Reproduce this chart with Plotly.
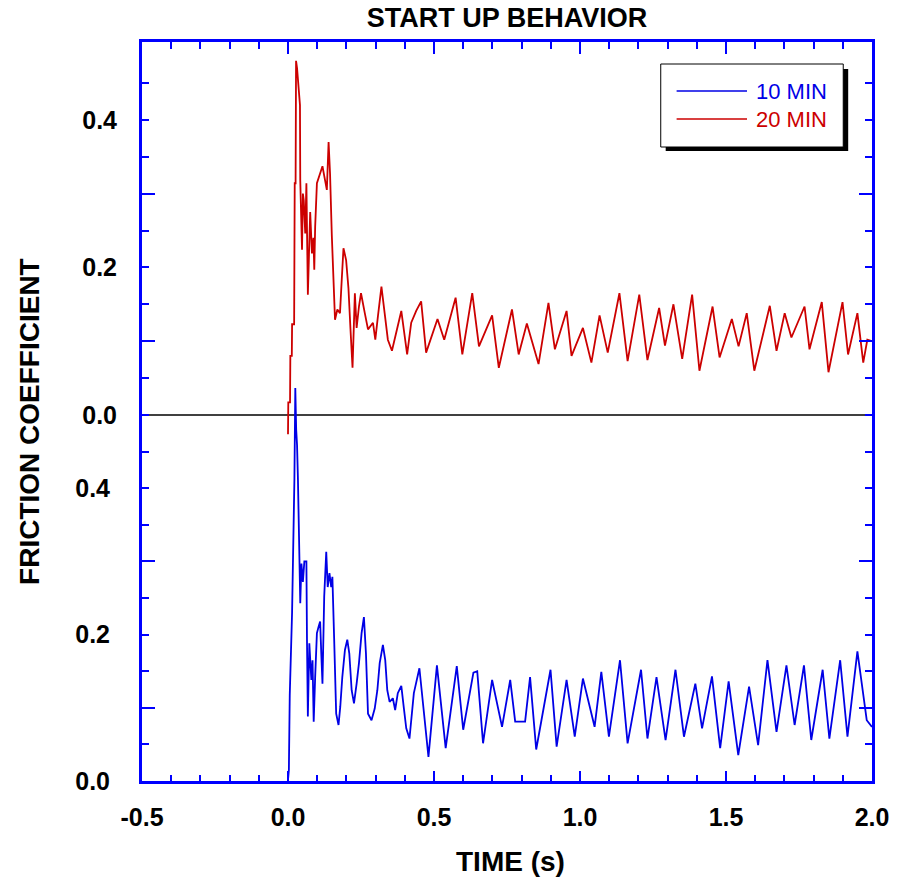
import plotly.graph_objects as go

# ---------------- data ----------------
red_t = [0.000, 0.001, 0.007, 0.008, 0.013, 0.014, 0.021, 0.023, 0.026, 0.0276,
         0.031, 0.034, 0.038, 0.039, 0.041, 0.042, 0.048, 0.051, 0.054, 0.059,
         0.063, 0.068, 0.072, 0.076, 0.082, 0.087, 0.090, 0.093, 0.099, 0.110,
         0.118, 0.127, 0.133, 0.139, 0.144, 0.150, 0.156, 0.161, 0.169, 0.178,
         0.184, 0.190, 0.199, 0.207, 0.214, 0.221, 0.229, 0.235, 0.243, 0.250,
         0.263, 0.274, 0.291, 0.299, 0.308, 0.320, 0.331, 0.342, 0.356, 0.371,
         0.388, 0.408, 0.422, 0.439, 0.456, 0.473, 0.512, 0.535, 0.574, 0.597,
         0.631, 0.654, 0.699, 0.722, 0.767, 0.790, 0.818, 0.858, 0.892, 0.914,
         0.954, 0.971, 1.010, 1.039, 1.067, 1.095, 1.135, 1.163, 1.203, 1.231,
         1.271, 1.291, 1.320, 1.350, 1.384, 1.409, 1.454, 1.478, 1.520, 1.543,
         1.571, 1.597, 1.650, 1.673, 1.701, 1.724, 1.769, 1.786, 1.828, 1.851,
         1.899, 1.918, 1.950, 1.970, 1.984, 2.000]
red_v = [-0.026, 0.017, 0.017, 0.080, 0.080, 0.123, 0.123, 0.314, 0.314, 0.480,
         0.470, 0.453, 0.440, 0.428, 0.420, 0.318, 0.224, 0.300, 0.291, 0.246,
         0.314, 0.163, 0.230, 0.275, 0.219, 0.240, 0.197, 0.255, 0.314, 0.327,
         0.337, 0.318, 0.305, 0.370, 0.327, 0.244, 0.163, 0.129, 0.143, 0.138,
         0.183, 0.226, 0.210, 0.172, 0.116, 0.064, 0.165, 0.118, 0.147, 0.165,
         0.138, 0.116, 0.125, 0.102, 0.134, 0.174, 0.138, 0.102, 0.087, 0.111,
         0.141, 0.082, 0.125, 0.141, 0.154, 0.0845, 0.130, 0.102, 0.159, 0.082,
         0.165, 0.093, 0.135, 0.064, 0.143, 0.082, 0.124, 0.069, 0.152, 0.089,
         0.141, 0.080, 0.118, 0.071, 0.135, 0.0845, 0.165, 0.073, 0.163, 0.0745,
         0.145, 0.094, 0.150, 0.076, 0.163, 0.060, 0.147, 0.078, 0.130, 0.093,
         0.138, 0.060, 0.148, 0.087, 0.138, 0.105, 0.147, 0.089, 0.153, 0.058,
         0.153, 0.082, 0.138, 0.071, 0.102, 0.100]

blue_t = [0.000, 0.003, 0.006, 0.014, 0.022, 0.025, 0.028, 0.031, 0.034, 0.039,
          0.042, 0.046, 0.051, 0.056, 0.063, 0.065, 0.068, 0.073, 0.080, 0.084,
          0.088, 0.093, 0.099, 0.105, 0.110, 0.114, 0.118, 0.124, 0.131, 0.136,
          0.142, 0.148, 0.152, 0.158, 0.165, 0.173, 0.179, 0.186, 0.195, 0.203,
          0.210, 0.218, 0.226, 0.235, 0.243, 0.252, 0.260, 0.267, 0.274, 0.286,
          0.297, 0.306, 0.314, 0.325, 0.333, 0.340, 0.348, 0.359, 0.367, 0.376,
          0.388, 0.397, 0.405, 0.416, 0.431, 0.450, 0.481, 0.510, 0.540, 0.578,
          0.600, 0.635, 0.648, 0.668, 0.699, 0.733, 0.761, 0.778, 0.812, 0.829,
          0.850, 0.899, 0.920, 0.954, 0.982, 1.010, 1.050, 1.073, 1.099, 1.137,
          1.163, 1.209, 1.231, 1.262, 1.293, 1.327, 1.356, 1.395, 1.418, 1.452,
          1.480, 1.509, 1.542, 1.579, 1.610, 1.642, 1.673, 1.707, 1.735, 1.767,
          1.792, 1.831, 1.854, 1.891, 1.916, 1.950, 1.982, 2.000]
blue_v = [0.001, 0.015, 0.117, 0.231, 0.413, 0.537, 0.480, 0.459, 0.413, 0.316,
          0.243, 0.297, 0.272, 0.300, 0.300, 0.193, 0.088, 0.188, 0.138, 0.165,
          0.081, 0.142, 0.202, 0.211, 0.218, 0.174, 0.133, 0.252, 0.313, 0.265,
          0.284, 0.265, 0.279, 0.195, 0.092, 0.0765, 0.1015, 0.142, 0.179, 0.193,
          0.174, 0.124, 0.106, 0.133, 0.161, 0.202, 0.224, 0.174, 0.092, 0.083,
          0.099, 0.124, 0.161, 0.186, 0.165, 0.124, 0.108, 0.113, 0.097, 0.120,
          0.130, 0.099, 0.072, 0.058, 0.120, 0.154, 0.033, 0.158, 0.045, 0.157,
          0.070, 0.148, 0.150, 0.0515, 0.138, 0.074, 0.138, 0.081, 0.081, 0.142,
          0.043, 0.152, 0.047, 0.138, 0.0605, 0.140, 0.074, 0.149, 0.0605, 0.165,
          0.0515, 0.152, 0.058, 0.142, 0.056, 0.152, 0.0605, 0.133, 0.072, 0.143,
          0.045, 0.136, 0.0355, 0.129, 0.049, 0.165, 0.067, 0.158, 0.0765, 0.158,
          0.056, 0.152, 0.058, 0.165, 0.0605, 0.177, 0.083, 0.074]

series_names = ["10 MIN", "20 MIN"]
x_tick_vals = [-0.5, 0.0, 0.5, 1.0, 1.5, 2.0]
x_tick_text = ["-0.5", "0.0", "0.5", "1.0", "1.5", "2.0"]
y_tick_vals = [0.0, 0.2, 0.4]
y_tick_text = ["0.0", "0.2", "0.4"]
y_minor_vals = [0.05, 0.15, 0.25, 0.35, 0.45]
y_long_vals = [0.1, 0.3]

# ---------------- styling / layout ----------------
W, H = 901, 880
ML, MR, MT, MB = 142, 23, 42, 99
PW, PH = W - ML - MR, H - MT - MB
FRAME = "#0000ff"
C_BLUE = "#0000e6"
C_RED = "#cc0000"
FONT = "Liberation Sans, Arial, sans-serif"

Y_RANGE = [0.0, PH / 732.0]
Y2_RANGE = [-(781 - 415) / 738.0, (415 - 42) / 738.0]


def px2x(px):
    return (px - ML) / PW


def py2y(py):
    return (H - MB - py) / PH


fig = go.Figure()
fig.add_trace(go.Scatter(x=blue_t, y=blue_v, mode="lines", name=series_names[0],
                         line=dict(color=C_BLUE, width=1.8), xaxis="x", yaxis="y",
                         showlegend=False))
fig.add_trace(go.Scatter(x=red_t, y=red_v, mode="lines", name=series_names[1],
                         line=dict(color=C_RED, width=1.8), xaxis="x", yaxis="y2",
                         showlegend=False))
# empty helper traces so the tick-only overlay axes are drawn
for xa, ya in [("x2", "y"), ("x", "y3"), ("x", "y4")]:
    fig.add_trace(go.Scatter(x=[None], y=[None], mode="lines", xaxis=xa, yaxis=ya,
                             showlegend=False, hoverinfo="skip"))

tickfont = dict(family=FONT, size=25, color="black", weight="bold")

fig.update_layout(
    width=W, height=H,
    margin=dict(l=ML, r=MR, t=MT, b=MB),
    paper_bgcolor="white", plot_bgcolor="white",
    showlegend=False,
    title=dict(text="START UP BEHAVIOR", x=0.5, xref="paper", xanchor="center",
               y=1 - 18 / H, yref="container", yanchor="middle",
               font=dict(family=FONT, size=27, color="black", weight="bold")),
    xaxis=dict(domain=[0, 1], range=[-0.5, 2.0], anchor="y",
               tickmode="array", tickvals=x_tick_vals, ticktext=x_tick_text,
               ticks="inside", ticklen=10, tickwidth=1.5, tickcolor=FRAME,
               tickfont=tickfont, ticklabelstandoff=12,
               minor=dict(tick0=0, dtick=0.1, ticks="inside", ticklen=6,
                          tickwidth=1.5, tickcolor=FRAME, showgrid=False),
               showline=True, linecolor=FRAME, linewidth=3,
               showgrid=False, zeroline=False),
    xaxis2=dict(overlaying="x", side="top", anchor="y", range=[-0.5, 2.0],
                tickmode="array", tickvals=x_tick_vals, showticklabels=False,
                ticks="inside", ticklen=12, tickwidth=1.5, tickcolor=FRAME,
                minor=dict(tick0=0, dtick=0.1, ticks="inside", ticklen=7,
                           tickwidth=1.5, tickcolor=FRAME, showgrid=False),
                showline=True, linecolor=FRAME, linewidth=3,
                showgrid=False, zeroline=False),
    yaxis=dict(domain=[0, 1], range=Y_RANGE, anchor="x",
               tickmode="array", tickvals=y_tick_vals, ticktext=y_tick_text,
               ticks="inside", ticklen=7, tickwidth=1.5, tickcolor=FRAME,
               tickfont=tickfont, ticklabelstandoff=24,
               minor=dict(tickmode="array", tickvals=y_minor_vals, ticks="inside",
                          ticklen=7, tickwidth=1.5, tickcolor=FRAME, showgrid=False),
               showline=True, linecolor=FRAME, linewidth=3, mirror="ticks",
               showgrid=False, zeroline=False),
    yaxis2=dict(overlaying="y", anchor="x", range=Y2_RANGE,
                tickmode="array", tickvals=y_tick_vals, ticktext=y_tick_text,
                ticks="inside", ticklen=7, tickwidth=1.5, tickcolor=FRAME,
                tickfont=tickfont, ticklabelstandoff=24,
                minor=dict(tickmode="array", tickvals=y_minor_vals, ticks="inside",
                           ticklen=7, tickwidth=1.5, tickcolor=FRAME, showgrid=False),
                showline=False, mirror="ticks",
                showgrid=False, zeroline=False),
    yaxis3=dict(overlaying="y", anchor="x", range=Y_RANGE,
                tickmode="array", tickvals=y_long_vals, showticklabels=False,
                ticks="inside", ticklen=13, tickwidth=1.5, tickcolor=FRAME,
                showline=False, mirror="ticks", showgrid=False, zeroline=False),
    yaxis4=dict(overlaying="y", anchor="x", range=Y2_RANGE,
                tickmode="array", tickvals=y_long_vals, showticklabels=False,
                ticks="inside", ticklen=13, tickwidth=1.5, tickcolor=FRAME,
                showline=False, mirror="ticks", showgrid=False, zeroline=False),
)

shapes = [
    # separator between the two panels (zero of the upper panel)
    dict(type="line", xref="paper", x0=0, x1=1, yref="y2", y0=0, y1=0,
         line=dict(color="black", width=1.5), layer="below"),
    # legend box shadow and box
    dict(type="rect", xref="paper", yref="paper",
         x0=px2x(670), x1=px2x(854), y0=py2y(151), y1=py2y(69),
         fillcolor="black", line=dict(width=0)),
    dict(type="rect", xref="paper", yref="paper",
         x0=px2x(665), x1=px2x(849), y0=py2y(147), y1=py2y(64),
         fillcolor="white", line=dict(color="black", width=1)),
    dict(type="line", xref="paper", yref="paper",
         x0=px2x(681), x1=px2x(752), y0=py2y(91), y1=py2y(91),
         line=dict(color=C_BLUE, width=1.5)),
    dict(type="line", xref="paper", yref="paper",
         x0=px2x(681), x1=px2x(752), y0=py2y(119), y1=py2y(119),
         line=dict(color=C_RED, width=1.5)),
]
fig.update_layout(shapes=shapes)

annotations = [
    dict(text=series_names[0], xref="paper", yref="paper", x=px2x(759), y=py2y(92),
         xanchor="left", yanchor="middle", showarrow=False,
         font=dict(family=FONT, size=22, color=C_BLUE)),
    dict(text=series_names[1], xref="paper", yref="paper", x=px2x(759), y=py2y(120),
         xanchor="left", yanchor="middle", showarrow=False,
         font=dict(family=FONT, size=22, color=C_RED)),
    dict(text="FRICTION COEFFICIENT", xref="paper", yref="paper",
         x=px2x(28), y=py2y(421), xanchor="center", yanchor="middle",
         textangle=-90, showarrow=False,
         font=dict(family=FONT, size=28, color="black", weight="bold")),
    dict(text="TIME (s)", xref="paper", yref="paper",
         x=px2x(514), y=py2y(861), xanchor="center", yanchor="middle",
         showarrow=False,
         font=dict(family=FONT, size=28, color="black", weight="bold")),
]
fig.update_layout(annotations=annotations)

fig.write_html(
    "out.html",
    config={"displayModeBar": False},
    post_script="document.body.style.margin='0';document.body.style.padding='0';"
                "document.documentElement.style.overflow='hidden';",
)
